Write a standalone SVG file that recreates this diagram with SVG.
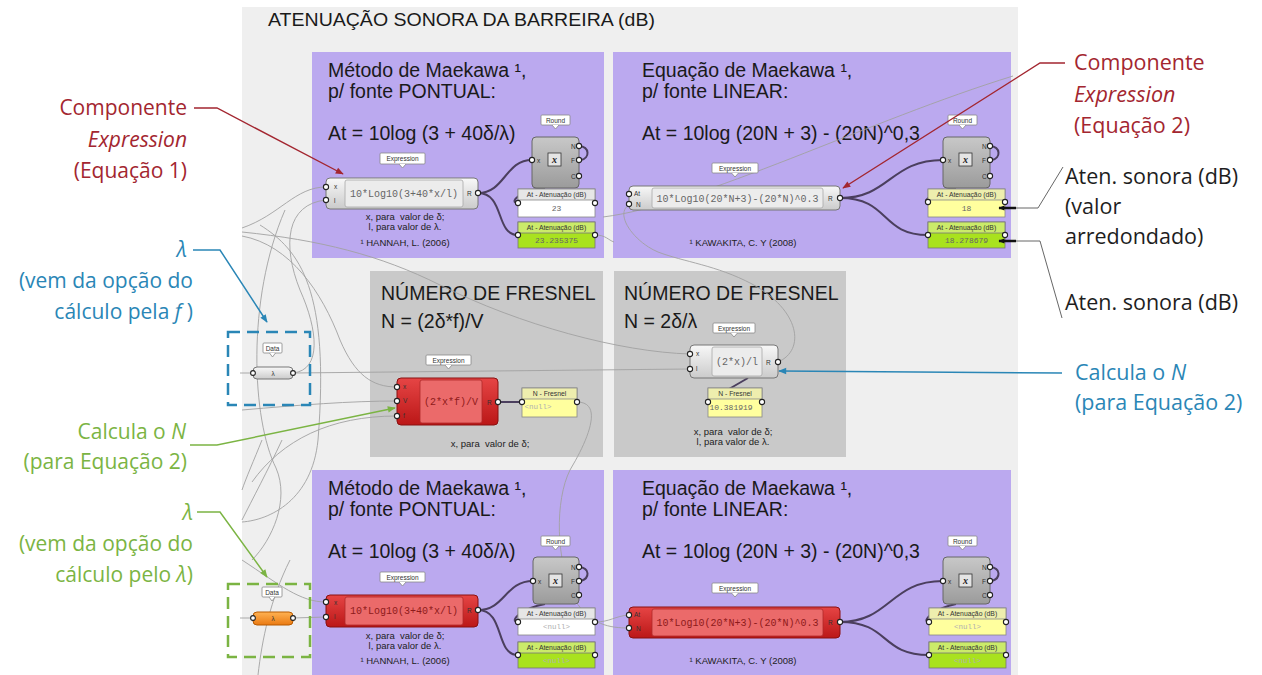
<svg xmlns="http://www.w3.org/2000/svg" width="1262" height="675" viewBox="0 0 1262 675">
<defs>
<style>
.ann{font-family:"Open Sans","Noto Sans",sans-serif;font-size:21px;}
.annr{font-family:"Open Sans","Noto Sans",sans-serif;font-size:21.5px;}
.red{fill:#a32630}
.blue{fill:#2a86b6}
.green{fill:#7bb443}
.blk{fill:#1e1e1e}
.it{font-style:italic}
.ptitle{font-family:"Liberation Sans",Arial,sans-serif;font-size:19.5px;fill:#1a1a1a}
.htitle{font-family:"Liberation Sans",Arial,sans-serif;font-size:18px;fill:#1a1a1a}
.small{font-family:"Liberation Sans",Arial,sans-serif;font-size:9.5px;fill:#222}
.mono{font-family:"Liberation Mono","DejaVu Sans Mono",monospace;font-size:10px;fill:#666}
.monor{font-family:"Liberation Mono","DejaVu Sans Mono",monospace;font-size:10px;fill:#8e1a1a}
.val{font-family:"Liberation Mono","DejaVu Sans Mono",monospace;font-size:8px;fill:#666}
.nul{font-family:"Liberation Mono","DejaVu Sans Mono",monospace;font-size:7.5px;fill:#b0b0b0}
.tiny{font-family:"Liberation Sans",Arial,sans-serif;font-size:6.5px;fill:#333}
.ph{font-family:"Liberation Sans",Arial,sans-serif;font-size:6.8px;fill:#333}
.port{fill:#fff;stroke:#222;stroke-width:1.1}
.wire{fill:none;stroke:#a2a2a2;stroke-width:0.9}
.dwire{fill:none;stroke:#4b3f5e;stroke-width:2}
.purple{fill:#bba9ef}
.gpanel{fill:#c9c9c9}
.bub{fill:#fff;stroke:#888;stroke-width:0.8}
.compW{fill:url(#gW);stroke:#777;stroke-width:1}
.compR{fill:url(#gRed);stroke:#8a1010;stroke-width:1}
.innerW{fill:#ececec;stroke:#a8a8a8;stroke-width:0.8}
.innerR{fill:#eb6a6a;stroke:#b02a2a;stroke-width:0.8}
.round{fill:url(#gRound);stroke:#666;stroke-width:1}
.pW{fill:#fff;stroke:#888;stroke-width:0.8}
.pWh{fill:#e6e6e6;stroke:#888;stroke-width:0.8}
.pY{fill:#ffff9e;stroke:#888;stroke-width:0.8}
.pYh{fill:#eeeeae;stroke:#888;stroke-width:0.8}
.pG{fill:#a9e21e;stroke:#777;stroke-width:0.8}
.pGh{fill:#cbeb6a;stroke:#777;stroke-width:0.8}
</style>
<linearGradient id="gW" x1="0" y1="0" x2="0" y2="1"><stop offset="0" stop-color="#f8f8f8"/><stop offset="1" stop-color="#cbcbcb"/></linearGradient>
<linearGradient id="gRed" x1="0" y1="0" x2="0" y2="1"><stop offset="0" stop-color="#e64545"/><stop offset="1" stop-color="#bb1717"/></linearGradient>
<linearGradient id="gRound" x1="0" y1="0" x2="0" y2="1"><stop offset="0" stop-color="#c8c8c8"/><stop offset="1" stop-color="#9b9b9b"/></linearGradient>
<linearGradient id="gOr" x1="0" y1="0" x2="0" y2="1"><stop offset="0" stop-color="#ffb253"/><stop offset="1" stop-color="#ea7a12"/></linearGradient>
<marker id="aRed" viewBox="0 0 10 10" refX="9" refY="5" markerWidth="10" markerHeight="8" markerUnits="userSpaceOnUse" orient="auto"><path d="M0,1 L10,5 L0,9 z" fill="#a32630"/></marker>
<marker id="aBlue" viewBox="0 0 10 10" refX="9" refY="5" markerWidth="10" markerHeight="8" markerUnits="userSpaceOnUse" orient="auto"><path d="M0,1 L10,5 L0,9 z" fill="#2a86b6"/></marker>
<marker id="aGreen" viewBox="0 0 10 10" refX="9" refY="5" markerWidth="10" markerHeight="8" markerUnits="userSpaceOnUse" orient="auto"><path d="M0,1 L10,5 L0,9 z" fill="#7bb443"/></marker>
<marker id="aBlk" viewBox="0 0 10 10" refX="9" refY="5" markerWidth="8" markerHeight="6" markerUnits="userSpaceOnUse" orient="auto"><path d="M0,1 L10,5 L0,9 z" fill="#111"/></marker>
</defs>

<rect x="0" y="0" width="1262" height="675" fill="#ffffff"/>
<g id="canvas">
<rect x="242" y="7" width="776" height="668" fill="#efefef"/>
<text class="htitle" x="268" y="26" textLength="387" lengthAdjust="spacingAndGlyphs">ATENUAÇÃO SONORA DA BARREIRA (dB)</text>
</g>

<!-- Group panels -->
<g id="panel-pontual-top">
<rect class="purple" x="312" y="52" width="292" height="206"/>
<text class="ptitle" x="328" y="77">Método de Maekawa ¹,</text>
<text class="ptitle" x="328" y="98">p/ fonte PONTUAL:</text>
<text class="ptitle" x="328" y="140">At = 10log (3 + 40δ/λ)</text>
<text class="small" x="405" y="220" text-anchor="middle" xml:space="preserve">x, para  valor de δ;</text>
<text class="small" x="405" y="230" text-anchor="middle">l, para valor de λ.</text>
<text class="small" x="405" y="246" text-anchor="middle">¹ HANNAH, L. (2006)</text>
</g>
<g id="panel-linear-top">
<rect class="purple" x="613" y="52" width="398" height="206"/>
<text class="ptitle" x="642" y="77">Equação de Maekawa ¹,</text>
<text class="ptitle" x="642" y="98">p/ fonte LINEAR:</text>
<text class="ptitle" x="642" y="140">At = 10log (20N + 3) - (20N)^0,3</text>
<text class="small" x="743" y="246" text-anchor="middle">¹ KAWAKITA, C. Y (2008)</text>
</g>
<g id="panel-fresnel-f">
<rect class="gpanel" x="370" y="271" width="233" height="186"/>
<text class="ptitle" x="381" y="300">NÚMERO DE FRESNEL</text>
<text class="ptitle" x="381" y="328">N = (2δ*f)/V</text>
<text class="small" x="490" y="447" text-anchor="middle" xml:space="preserve">x, para  valor de δ;</text>
</g>
<g id="panel-fresnel-l">
<rect class="gpanel" x="614" y="271" width="232" height="186"/>
<text class="ptitle" x="624" y="300">NÚMERO DE FRESNEL</text>
<text class="ptitle" x="624" y="328">N = 2δ/λ</text>
<text class="small" x="733" y="435" text-anchor="middle" xml:space="preserve">x, para  valor de δ;</text>
<text class="small" x="733" y="445" text-anchor="middle">l, para valor de λ.</text>
</g>
<g id="panel-pontual-bottom">
<rect class="purple" x="312" y="470" width="292" height="205"/>
<text class="ptitle" x="328" y="495">Método de Maekawa ¹,</text>
<text class="ptitle" x="328" y="516">p/ fonte PONTUAL:</text>
<text class="ptitle" x="328" y="558">At = 10log (3 + 40δ/λ)</text>
<text class="small" x="405" y="639" text-anchor="middle" xml:space="preserve">x, para  valor de δ;</text>
<text class="small" x="405" y="649" text-anchor="middle">l, para valor de λ.</text>
<text class="small" x="405" y="664" text-anchor="middle">¹ HANNAH, L. (2006)</text>
</g>
<g id="panel-linear-bottom">
<rect class="purple" x="613" y="470" width="398" height="205"/>
<text class="ptitle" x="642" y="495">Equação de Maekawa ¹,</text>
<text class="ptitle" x="642" y="516">p/ fonte LINEAR:</text>
<text class="ptitle" x="642" y="558">At = 10log (20N + 3) - (20N)^0,3</text>
<text class="small" x="743" y="664" text-anchor="middle">¹ KAWAKITA, C. Y (2008)</text>
</g>

<!-- connectors -->
<g id="connectors">
<g id="gray-wires">
<path class="wire" d="M242,228 C280,215 295,187 326,187"/>
<path class="wire" d="M293,373 C322,370 318,330 300,290 C282,245 286,204 326,200"/>
<path class="wire" d="M242,232 C320,240 380,255 440,285 C520,325 620,352 690,354"/>
<path class="wire" d="M293,373 L690,369"/>
<path class="wire" d="M242,236 C290,245 322,292 340,340 C355,375 372,387 397,387"/>
<path class="wire" d="M242,410 C300,405 350,401 397,401"/>
<path class="wire" d="M252,482 C282,440 330,416 397,416"/>
<path class="wire" d="M285,210 C246,300 252,420 276,468 C290,500 272,540 252,560"/>
<path class="wire" d="M260,225 C300,250 330,290 318,440 C312,500 270,520 242,522"/>
<path class="wire" d="M282,440 C268,470 252,500 242,520"/>
<path class="wire" d="M262,440 C254,460 246,478 242,490"/>
<path class="wire" d="M242,560 C280,585 300,602 326,602"/>
<path class="wire" d="M293,618 L326,617"/>
<path class="wire" d="M240,373 L253,373"/>
<path class="wire" d="M240,618 L253,618"/>
<path class="wire" d="M258,675 C262,640 270,600 290,560"/>
<path class="wire" d="M778,362 C806,350 800,310 752,284 C716,265 684,262 658,252 C634,242 614,214 629,205"/>
<path class="wire" d="M603,217 C700,205 870,120 1013,76"/>
<path class="wire" d="M577,402 C604,402 588,440 570,470 C555,500 555,560 575,600 C590,625 610,628 629,628"/>
<path class="wire" d="M595,622 C610,622 615,616 629,615"/>
<path class="wire" d="M595,235 C606,235 608,240 614,242"/>
</g>
<g id="data-wires">
<path class="dwire" d="M478,193 C505,193 505,160 532,160"/>
<path class="dwire" d="M478,193 C505,193 495,235 518,235"/>
<path class="dwire" d="M545,188 C520,190 508,203 518,203"/>
<path class="dwire" d="M579,146 C590,147 590,158 581,160"/>
<path class="dwire" d="M840,198 C890,198 890,160 943,160"/>
<path class="dwire" d="M840,198 C890,198 880,235 928,235"/>
<path class="dwire" d="M956,188 C935,190 920,202 928,202"/>
<path class="dwire" d="M990,146 C1001,147 1001,158 992,160"/>
<path class="dwire" d="M498,402 L522,402"/>
<path class="dwire" d="M748,378 L710,400"/>
<path class="dwire" d="M478,610 C505,610 505,581 533,581"/>
<path class="dwire" d="M478,610 C505,610 495,655 518,655"/>
<path class="dwire" d="M545,604 C522,608 508,622 518,622"/>
<path class="dwire" d="M579,567 C590,568 590,578 581,581"/>
<path class="dwire" d="M840,622 C890,622 890,581 943,581"/>
<path class="dwire" d="M840,622 C890,622 880,655 929,655"/>
<path class="dwire" d="M956,604 C935,608 920,622 929,622"/>
<path class="dwire" d="M990,567 C1001,568 1001,578 992,581"/>
</g>
</g>

<!-- Components -->
<g id="expr-top-left">
<rect class="bub" x="380" y="153" width="45" height="11" rx="1"/>
<path class="bub" d="M399,164 L402.5,168 L406,164"/>
<text class="tiny" x="402.5" y="161" text-anchor="middle">Expression</text>
<rect class="compW" x="326" y="178" width="152" height="31" rx="4"/>
<rect class="innerW" x="345" y="180" width="118" height="27" rx="2"/>
<text class="mono" x="404" y="197" text-anchor="middle">10*Log10(3+40*x/l)</text>
<text class="tiny" x="334" y="189">x</text><text class="tiny" x="334" y="203">l</text>
<text class="tiny" x="467" y="196">R</text>
<circle class="port" cx="326" cy="187" r="2.6"/><circle class="port" cx="326" cy="200" r="2.6"/><circle class="port" cx="478" cy="193" r="2.6"/>
</g>
<g id="round-top-left">
<rect class="bub" x="541" y="115" width="29" height="10" rx="1"/>
<path class="bub" d="M552,125 L555.5,129 L559,125"/>
<text class="tiny" x="555.5" y="122.5" text-anchor="middle">Round</text>
<rect class="round" x="532" y="137" width="47" height="51" rx="4"/>
<text class="tiny" x="537" y="163">x</text>
<rect x="548" y="153" width="13" height="13" fill="#e4e4e4" stroke="#333" stroke-width="0.8"/>
<text x="554.5" y="163" text-anchor="middle" font-family="Liberation Serif,serif" font-size="10" font-weight="bold" font-style="italic" fill="#222">x</text>
<text class="tiny" x="571" y="149">N</text><text class="tiny" x="571" y="163">F</text><text class="tiny" x="571" y="179">C</text>
<circle class="port" cx="532" cy="160" r="2.6"/><circle class="port" cx="579" cy="146" r="2.6"/><circle class="port" cx="579" cy="160" r="2.6"/><circle class="port" cx="579" cy="176" r="2.6"/>
</g>
<g id="panel-at-round-top-left">
<rect class="pW" x="518" y="189" width="77" height="28"/>
<rect class="pWh" x="518" y="189" width="77" height="11"/>
<text class="ph" x="556.5" y="197" text-anchor="middle">At - Atenuação (dB)</text>
<text class="val" x="556.5" y="211" text-anchor="middle">23</text>
<circle class="port" cx="518" cy="203" r="2.6"/><circle class="port" cx="595" cy="203" r="2.6"/>
</g>
<g id="panel-at-top-left">
<rect class="pG" x="518" y="222" width="77" height="26"/>
<rect class="pGh" x="518" y="222" width="77" height="11"/>
<text class="ph" x="556.5" y="230" text-anchor="middle">At - Atenuação (dB)</text>
<text class="val" x="556.5" y="243" text-anchor="middle">23.235375</text>
<circle class="port" cx="518" cy="235" r="2.6"/><circle class="port" cx="595" cy="235" r="2.6"/>
</g>

<g id="expr-top-right">
<rect class="bub" x="712" y="163" width="46" height="10" rx="1"/>
<path class="bub" d="M731.5,173 L735,177 L738.5,173"/>
<text class="tiny" x="735" y="170.5" text-anchor="middle">Expression</text>
<rect class="compW" x="629" y="186" width="211" height="24" rx="4"/>
<rect class="innerW" x="652" y="188" width="171" height="20" rx="2"/>
<text class="mono" x="737.5" y="201.5" text-anchor="middle">10*Log10(20*N+3)-(20*N)^0.3</text>
<text class="tiny" x="634" y="196">At</text><text class="tiny" x="636" y="207">N</text>
<text class="tiny" x="828" y="201">R</text>
<circle class="port" cx="629" cy="194" r="2.6"/><circle class="port" cx="629" cy="204" r="2.6"/><circle class="port" cx="840" cy="198" r="2.6"/>
</g>
<g id="round-top-right">
<rect class="bub" x="948" y="115" width="29" height="10" rx="1"/>
<path class="bub" d="M959,125 L962.5,129 L966,125"/>
<text class="tiny" x="962.5" y="122.5" text-anchor="middle">Round</text>
<rect class="round" x="943" y="137" width="47" height="51" rx="4"/>
<text class="tiny" x="948" y="163">x</text>
<rect x="959" y="153" width="13" height="13" fill="#e4e4e4" stroke="#333" stroke-width="0.8"/>
<text x="965.5" y="163" text-anchor="middle" font-family="Liberation Serif,serif" font-size="10" font-weight="bold" font-style="italic" fill="#222">x</text>
<text class="tiny" x="982" y="149">N</text><text class="tiny" x="982" y="163">F</text><text class="tiny" x="982" y="179">C</text>
<circle class="port" cx="943" cy="160" r="2.6"/><circle class="port" cx="990" cy="146" r="2.6"/><circle class="port" cx="990" cy="160" r="2.6"/><circle class="port" cx="990" cy="176" r="2.6"/>
</g>
<g id="panel-at-round-top-right">
<rect class="pY" x="928" y="189" width="77" height="28"/>
<rect class="pYh" x="928" y="189" width="77" height="11"/>
<text class="ph" x="966.5" y="197" text-anchor="middle">At - Atenuação (dB)</text>
<text class="val" x="966.5" y="211" text-anchor="middle">18</text>
<circle class="port" cx="928" cy="202" r="2.6"/><circle class="port" cx="1005" cy="202" r="2.6"/>
</g>
<g id="panel-at-top-right">
<rect class="pG" x="928" y="222" width="77" height="26"/>
<rect class="pGh" x="928" y="222" width="77" height="11"/>
<text class="ph" x="966.5" y="230" text-anchor="middle">At - Atenuação (dB)</text>
<text class="val" x="966.5" y="243" text-anchor="middle">18.278679</text>
<circle class="port" cx="928" cy="235" r="2.6"/><circle class="port" cx="1005" cy="235" r="2.6"/>
</g>

<g id="expr-fresnel-f">
<rect class="bub" x="426" y="355" width="45" height="10" rx="1"/>
<path class="bub" d="M445,365 L448.5,369 L452,365"/>
<text class="tiny" x="448.5" y="362.5" text-anchor="middle">Expression</text>
<rect class="compR" x="397" y="378" width="101" height="47" rx="4"/>
<rect class="innerR" x="420" y="380" width="62" height="43" rx="2"/>
<text class="monor" x="451" y="405" text-anchor="middle">(2*x*f)/V</text>
<text class="tiny" x="403" y="389">x</text><text class="tiny" x="403" y="403">V</text><text class="tiny" x="403" y="418">f</text>
<text class="tiny" x="487" y="405">R</text>
<circle class="port" cx="397" cy="387" r="2.6"/><circle class="port" cx="397" cy="401" r="2.6"/><circle class="port" cx="397" cy="416" r="2.6"/><circle class="port" cx="498" cy="402" r="2.6"/>
</g>
<g id="panel-n-fresnel-f">
<rect class="pY" x="522" y="388" width="55" height="29"/>
<rect class="pYh" x="522" y="388" width="55" height="11"/>
<text class="ph" x="549.5" y="396" text-anchor="middle">N - Fresnel</text>
<text class="nul" x="538" y="409" text-anchor="middle">&lt;null&gt;</text>
<circle class="port" cx="522" cy="402" r="2.6"/><circle class="port" cx="577" cy="402" r="2.6"/>
</g>
<g id="expr-fresnel-l">
<rect class="bub" x="713" y="323" width="42" height="10" rx="1"/>
<path class="bub" d="M730.5,333 L734,337 L737.5,333"/>
<text class="tiny" x="734" y="330.5" text-anchor="middle">Expression</text>
<rect class="compW" x="690" y="345" width="88" height="33" rx="4"/>
<rect class="innerW" x="712" y="347" width="50" height="29" rx="2"/>
<text class="mono" x="737" y="365" text-anchor="middle">(2*x)/l</text>
<text class="tiny" x="696" y="356">x</text><text class="tiny" x="696" y="371">l</text>
<text class="tiny" x="766" y="365">R</text>
<circle class="port" cx="690" cy="354" r="2.6"/><circle class="port" cx="690" cy="369" r="2.6"/><circle class="port" cx="778" cy="362" r="2.6"/>
</g>
<g id="panel-n-fresnel-l">
<rect class="pY" x="708" y="388" width="54" height="29"/>
<rect class="pYh" x="708" y="388" width="54" height="11"/>
<text class="ph" x="735" y="396" text-anchor="middle">N - Fresnel</text>
<text class="val" x="731" y="410" text-anchor="middle">10.381919</text>
<circle class="port" cx="708" cy="402" r="2.6"/><circle class="port" cx="762" cy="402" r="2.6"/>
</g>

<g id="expr-bottom-left">
<rect class="bub" x="380" y="572" width="45" height="10" rx="1"/>
<path class="bub" d="M399,582 L402.5,586 L406,582"/>
<text class="tiny" x="402.5" y="579.5" text-anchor="middle">Expression</text>
<rect class="compR" x="326" y="595" width="152" height="32" rx="4"/>
<rect class="innerR" x="345" y="597" width="118" height="28" rx="2"/>
<text class="monor" x="404" y="614" text-anchor="middle">10*Log10(3+40*x/l)</text>
<text class="tiny" x="334" y="605">x</text><text class="tiny" x="334" y="619">l</text>
<text class="tiny" x="467" y="613">R</text>
<circle class="port" cx="326" cy="602" r="2.6"/><circle class="port" cx="326" cy="617" r="2.6"/><circle class="port" cx="478" cy="610" r="2.6"/>
</g>
<g id="round-bottom-left">
<rect class="bub" x="541" y="536" width="29" height="10" rx="1"/>
<path class="bub" d="M552,546 L555.5,550 L559,546"/>
<text class="tiny" x="555.5" y="543.5" text-anchor="middle">Round</text>
<rect class="round" x="533" y="557" width="46" height="47" rx="4"/>
<text class="tiny" x="538" y="584">x</text>
<rect x="549" y="574" width="13" height="13" fill="#e4e4e4" stroke="#333" stroke-width="0.8"/>
<text x="555.5" y="584" text-anchor="middle" font-family="Liberation Serif,serif" font-size="10" font-weight="bold" font-style="italic" fill="#222">x</text>
<text class="tiny" x="571" y="570">N</text><text class="tiny" x="571" y="584">F</text><text class="tiny" x="571" y="598">C</text>
<circle class="port" cx="533" cy="581" r="2.6"/><circle class="port" cx="579" cy="567" r="2.6"/><circle class="port" cx="579" cy="581" r="2.6"/><circle class="port" cx="579" cy="595" r="2.6"/>
</g>
<g id="panel-at-round-bottom-left">
<rect class="pW" x="518" y="608" width="77" height="27"/>
<rect class="pWh" x="518" y="608" width="77" height="11"/>
<text class="ph" x="556.5" y="616" text-anchor="middle">At - Atenuação (dB)</text>
<text class="nul" x="556.5" y="629" text-anchor="middle">&lt;null&gt;</text>
<circle class="port" cx="518" cy="622" r="2.6"/><circle class="port" cx="595" cy="622" r="2.6"/>
</g>
<g id="panel-at-bottom-left">
<rect class="pG" x="518" y="642" width="77" height="26"/>
<rect class="pGh" x="518" y="642" width="77" height="11"/>
<text class="ph" x="556.5" y="650" text-anchor="middle">At - Atenuação (dB)</text>
<text class="nul" x="556.5" y="663" text-anchor="middle" fill="#d8f08a">&lt;null&gt;</text>
<circle class="port" cx="518" cy="655" r="2.6"/><circle class="port" cx="595" cy="655" r="2.6"/>
</g>

<g id="expr-bottom-right">
<rect class="bub" x="712" y="583" width="46" height="10" rx="1"/>
<path class="bub" d="M731.5,593 L735,597 L738.5,593"/>
<text class="tiny" x="735" y="590.5" text-anchor="middle">Expression</text>
<rect class="compR" x="629" y="607" width="211" height="31" rx="4"/>
<rect class="innerR" x="652" y="609" width="171" height="27" rx="2"/>
<text class="monor" x="737.5" y="626" text-anchor="middle">10*Log10(20*N+3)-(20*N)^0.3</text>
<text class="tiny" x="634" y="617">At</text><text class="tiny" x="636" y="631">N</text>
<text class="tiny" x="828" y="625">R</text>
<circle class="port" cx="629" cy="615" r="2.6"/><circle class="port" cx="629" cy="628" r="2.6"/><circle class="port" cx="840" cy="622" r="2.6"/>
</g>
<g id="round-bottom-right">
<rect class="bub" x="948" y="536" width="29" height="10" rx="1"/>
<path class="bub" d="M959,546 L962.5,550 L966,546"/>
<text class="tiny" x="962.5" y="543.5" text-anchor="middle">Round</text>
<rect class="round" x="943" y="557" width="47" height="47" rx="4"/>
<text class="tiny" x="948" y="584">x</text>
<rect x="959" y="574" width="13" height="13" fill="#e4e4e4" stroke="#333" stroke-width="0.8"/>
<text x="965.5" y="584" text-anchor="middle" font-family="Liberation Serif,serif" font-size="10" font-weight="bold" font-style="italic" fill="#222">x</text>
<text class="tiny" x="982" y="570">N</text><text class="tiny" x="982" y="584">F</text><text class="tiny" x="982" y="598">C</text>
<circle class="port" cx="943" cy="581" r="2.6"/><circle class="port" cx="990" cy="567" r="2.6"/><circle class="port" cx="990" cy="581" r="2.6"/><circle class="port" cx="990" cy="595" r="2.6"/>
</g>
<g id="panel-at-round-bottom-right">
<rect class="pY" x="929" y="608" width="77" height="27"/>
<rect class="pYh" x="929" y="608" width="77" height="11"/>
<text class="ph" x="967.5" y="616" text-anchor="middle">At - Atenuação (dB)</text>
<text class="nul" x="967.5" y="629" text-anchor="middle">&lt;null&gt;</text>
<circle class="port" cx="929" cy="622" r="2.6"/><circle class="port" cx="1006" cy="622" r="2.6"/>
</g>
<g id="panel-at-bottom-right">
<rect class="pG" x="929" y="642" width="77" height="26"/>
<rect class="pGh" x="929" y="642" width="77" height="11"/>
<text class="ph" x="967.5" y="650" text-anchor="middle">At - Atenuação (dB)</text>
<text class="nul" x="967.5" y="663" text-anchor="middle" fill="#d8f08a">&lt;null&gt;</text>
<circle class="port" cx="929" cy="655" r="2.6"/><circle class="port" cx="1006" cy="655" r="2.6"/>
</g>

<g id="data-lambda-f">
<rect x="228" y="332" width="82" height="73" fill="none" stroke="#2a86b6" stroke-width="2.5" stroke-dasharray="12,7"/>
<rect class="bub" x="263" y="343" width="19" height="10" rx="1"/>
<path class="bub" d="M269.5,353 L272.5,357 L275.5,353"/>
<text class="tiny" x="272.5" y="350.5" text-anchor="middle">Data</text>
<rect class="compW" x="253" y="367" width="40" height="12" rx="4"/>
<text class="tiny" x="273" y="375.5" text-anchor="middle">λ</text>
<circle class="port" cx="253" cy="373" r="2.4"/><circle class="port" cx="293" cy="373" r="2.4"/>
</g>
<g id="data-lambda-l">
<rect x="228" y="584" width="82" height="73" fill="none" stroke="#7bb443" stroke-width="2.5" stroke-dasharray="12,7"/>
<rect class="bub" x="262" y="587" width="20" height="10" rx="1"/>
<path class="bub" d="M269,597 L272,601 L275,597"/>
<text class="tiny" x="272" y="594.5" text-anchor="middle">Data</text>
<rect x="253" y="612" width="40" height="13" rx="4" fill="url(#gOr)" stroke="#b85a00" stroke-width="1"/>
<text class="tiny" x="273" y="621" text-anchor="middle">λ</text>
<circle class="port" cx="253" cy="618" r="2.4"/><circle class="port" cx="293" cy="618" r="2.4"/>
</g>

<!-- annotations -->
<g id="ann-expr-1">
<text class="ann red" text-anchor="end"><tspan x="187" y="115">Componente</tspan><tspan x="187" y="147" class="it">Expression</tspan><tspan x="187" y="178">(Equação 1)</tspan></text>
<path d="M194,108 L217,108 L343,174" fill="none" stroke="#a32630" stroke-width="1.4" marker-end="url(#aRed)"/>
</g>
<g id="ann-expr-2">
<text class="annr red"><tspan x="1074" y="70">Componente</tspan><tspan x="1074" y="102" class="it">Expression</tspan><tspan x="1074" y="133">(Equação 2)</tspan></text>
<path d="M1065,63 L1040,63 L843,188" fill="none" stroke="#a32630" stroke-width="1.4" marker-end="url(#aRed)"/>
</g>
<g id="ann-lambda-f">
<text class="ann blue" text-anchor="end"><tspan x="187" y="257" class="it">λ</tspan><tspan x="193" y="288">(vem da opção do</tspan><tspan x="193" y="319">cálculo pela <tspan class="it">f</tspan> )</tspan></text>
<path d="M193,250 L220,250 L267,322" fill="none" stroke="#2a86b6" stroke-width="1.5" marker-end="url(#aBlue)"/>
</g>
<g id="ann-calcula-green">
<text class="ann green" text-anchor="end"><tspan x="186" y="439">Calcula o <tspan class="it">N</tspan></tspan><tspan x="187" y="469">(para Equação 2)</tspan></text>
<path d="M190,445 L217,445 L395,408" fill="none" stroke="#7bb443" stroke-width="1.5" marker-end="url(#aGreen)"/>
</g>
<g id="ann-lambda-l">
<text class="ann green" text-anchor="end"><tspan x="193" y="520" class="it">λ</tspan><tspan x="193" y="551">(vem da opção do</tspan><tspan x="193" y="582">cálculo pelo <tspan class="it">λ</tspan>)</tspan></text>
<path d="M197,512 L220,512 L267,577" fill="none" stroke="#7bb443" stroke-width="1.5" marker-end="url(#aGreen)"/>
</g>
<g id="ann-aten-round">
<text class="annr blk"><tspan x="1065" y="184">Aten. sonora (dB)</tspan><tspan x="1065" y="214">(valor</tspan><tspan x="1065" y="244">arredondado)</tspan></text>
<path d="M1063,167 L1038,208 L1012,208" fill="none" stroke="#555" stroke-width="0.9"/>
<path d="M1016,208 L999,208" fill="none" stroke="#111" stroke-width="2.5" marker-end="url(#aBlk)"/>
</g>
<g id="ann-aten">
<text class="annr blk" x="1065" y="310">Aten. sonora (dB)</text>
<path d="M1062,318 L1040,241 L1012,241" fill="none" stroke="#555" stroke-width="0.9"/>
<path d="M1016,241 L999,241" fill="none" stroke="#111" stroke-width="2.5" marker-end="url(#aBlk)"/>
</g>
<g id="ann-calcula-blue">
<text class="annr blue"><tspan x="1075" y="380">Calcula o <tspan class="it">N</tspan></tspan><tspan x="1075" y="410">(para Equação 2)</tspan></text>
<path d="M1062,373 L779,371" fill="none" stroke="#2a86b6" stroke-width="1.5" marker-end="url(#aBlue)"/>
</g>
</svg>
